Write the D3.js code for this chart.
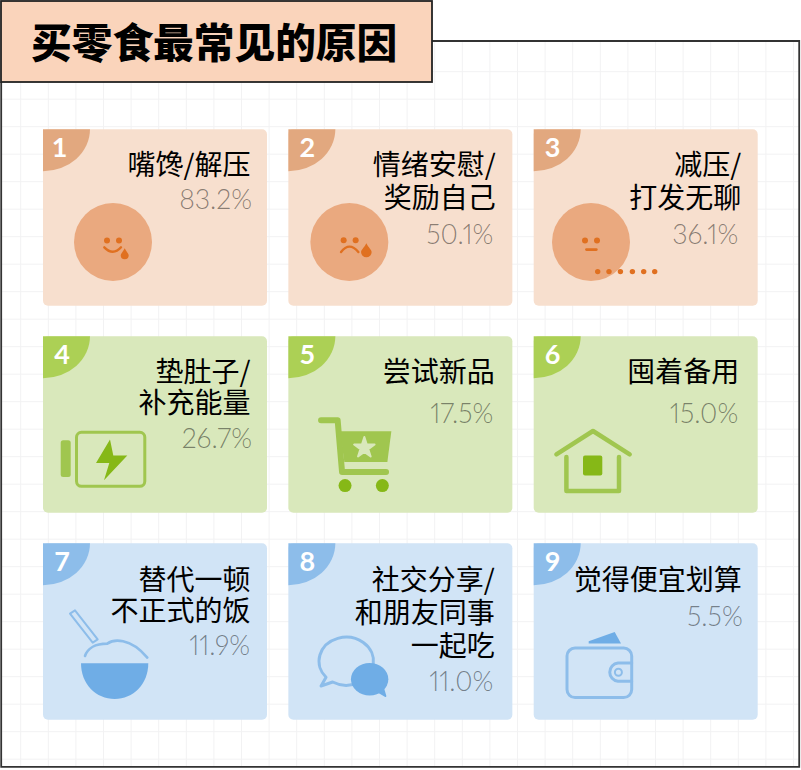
<!DOCTYPE html>
<html>
<head>
<meta charset="utf-8">
<script src="https://d3js.org/d3.v7.min.js"></script>
<style>
  html, body { margin: 0; padding: 0; background: #fff; }
  svg { display: block; }
  text { font-family: "Noto Sans CJK SC", sans-serif; }
  .num { font-family: Lato, sans-serif; font-weight: 700; font-size: 27px; fill: #fff; text-anchor: middle; }
  .label { font-size: 28px; fill: #000; text-anchor: end; }
  .value { font-family: Lato, sans-serif; font-weight: 300; font-size: 26.7px; fill: #000; fill-opacity: .45; text-anchor: end; font-feature-settings: "pnum"; font-variant-numeric: proportional-nums; }
</style>
</head>
<body>
<svg width="801" height="770"></svg>
<script>
var titleText = "买零食最常见的原因";
var ranks = [1, 2, 3, 4, 5, 6, 7, 8, 9];
var labels = [
  ["嘴馋/解压"],
  ["情绪安慰/", "奖励自己"],
  ["减压/", "打发无聊"],
  ["垫肚子/", "补充能量"],
  ["尝试新品"],
  ["囤着备用"],
  ["替代一顿", "不正式的饭"],
  ["社交分享/", "和朋友同事", "一起吃"],
  ["觉得便宜划算"]
];
var shares = [83.2, 50.1, 36.1, 26.7, 17.5, 15.0, 11.9, 11.0, 5.5];

// layout tweaks, card by card
var numX = [16.5, 19, 19, 19, 19, 19, 19, 19, 19];
var labelRight = [207.5, 207.5, 207.5, 207.5, 206.5, 205.5, 207.5, 206.5, 208];
var labelFirst = [45.5, 45.5, 45.5, 46, 46, 46, 46.7, 46.7, 46.7];
var lineGap = [33, 33, 33, 31, 33, 33, 31, 33, 33];
var valueRight = [209, 205, 204.5, 209, 205, 204.5, 207, 205, 209];
var valueDy = [34.5, 36, 36, 35, 41, 41, 34.5, 35.5, 36.5];

var rowColors = [
  { card: "#f7dfce", corner: "#e2a87f", light: "#eaa97f", dark: "#e07020" },
  { card: "#d9e8bb", corner: "#acd055", light: "#a0c64f", dark: "#86b817" },
  { card: "#d1e4f6", corner: "#8dbdea", light: "#8dbdea", dark: "#6fade6" }
];

var svg = d3.select("svg");
var x = d3.scaleLinear().domain([0, 2]).range([43, 533.7]);
var y = d3.scaleLinear().domain([0, 2]).range([129.3, 543.3]);
var cardW = 224, cardH = 176.5;

function dropPath(cx, cy, r, tip) {
  return "M" + cx + "," + tip +
    "C" + (cx + r * .4) + "," + (tip + (cy - tip) * .5) + " " + (cx + r) + "," + (cy - r * .4) + " " + (cx + r) + "," + cy +
    "A" + r + "," + r + " 0 0 1 " + (cx - r) + "," + cy +
    "C" + (cx - r) + "," + (cy - r * .4) + " " + (cx - r * .4) + "," + (tip + (cy - tip) * .5) + " " + cx + "," + tip + "Z";
}

function dot(g, cx, cy, r, fill) {
  return g.append("circle").attr("cx", cx).attr("cy", cy).attr("r", r).attr("fill", fill);
}

function line(g, d, color, w) {
  return g.append("path").attr("d", d).attr("fill", "none").attr("stroke", color)
    .attr("stroke-width", w).attr("stroke-linecap", "round").attr("stroke-linejoin", "round");
}

function shape(g, d, color) {
  return g.append("path").attr("d", d).attr("fill", color);
}

// one little drawing per card, coordinates relative to the card corner
var icons = [
  function(g, c) {  // smile with a drool drop
    dot(g, 70, 112.7, 39, c.light);
    dot(g, 64, 111.3, 3, c.dark);
    dot(g, 76, 111.3, 3, c.dark);
    line(g, "M61.3,118Q70,127 78,118", c.dark, 2.4);
    shape(g, dropPath(81.7, 126, 4, 119), c.dark);
  },
  function(g, c) {  // sad with a tear
    dot(g, 61, 112.7, 39, c.light);
    dot(g, 55.3, 111, 3, c.dark);
    dot(g, 67.3, 111, 3, c.dark);
    line(g, "M52.7,122.7Q61,112 70,122.7", c.dark, 2.4);
    shape(g, dropPath(78, 122.7, 5.3, 114), c.dark);
  },
  function(g, c) {  // flat face, dots trailing off
    dot(g, 57.3, 112.7, 39, c.light);
    dot(g, 51.3, 111.3, 3, c.dark);
    dot(g, 63.3, 111.3, 3, c.dark);
    line(g, "M52.7,120.3H62.7", c.dark, 2.6);
    [64, 75.3, 86.7, 98.7, 110, 121].forEach(function(dx) {
      dot(g, dx, 142.3, 2.7, c.dark);
    });
  },
  function(g, c) {  // battery
    g.append("rect").attr("x", 17.7).attr("y", 104).attr("width", 10).attr("height", 36.7)
      .attr("rx", 2.5).attr("fill", c.light);
    g.append("rect").attr("x", 33.5).attr("y", 96).attr("width", 68.3).attr("height", 54)
      .attr("rx", 5).attr("fill", "none").attr("stroke", c.light).attr("stroke-width", 3);
    shape(g, "M67,103.3L53,126.7H66.3L61,144L84.3,119.3H70.3Z", c.dark);
  },
  function(g, c) {  // cart
    line(g, "M32.7,84H49.3L53.7,135.7H97.7", c.light, 6);
    shape(g, "M51.7,95H103L99,125.7H56Z", c.light);
    g.append("path").attr("d", d3.symbol().type(d3.symbolStar).size(130)())
      .attr("transform", "translate(76,111.5)")
      .attr("fill", c.card).attr("stroke", c.card).attr("stroke-width", 2).attr("stroke-linejoin", "round");
    dot(g, 56.7, 149.3, 6.5, c.dark);
    dot(g, 94, 149.3, 6.5, c.dark);
  },
  function(g, c) {  // house
    line(g, "M22.7,118L59.3,94.7L96,118", c.light, 4.5);
    line(g, "M32.7,120.7V154.7H85.3V120.7", c.light, 4.5);
    g.append("rect").attr("x", 49.3).attr("y", 119.3).attr("width", 19.3).attr("height", 20)
      .attr("rx", 2).attr("fill", c.dark);
  },
  function(g, c) {  // rice bowl
    line(g, "M27,70.3L32,67L54.7,96L49.7,99.3Z", c.light, 2);
    line(g, "M42,112.7C44.3,105.3 52,100.3 64.3,100.3C70.3,96 87,93.7 104.3,114.3", c.light, 2.6);
    shape(g, "M38,120H105.3C105.3,141 90,155.7 71.7,155.7C53,155.7 38,141 38,120Z", c.dark);
  },
  function(g, c) {  // chat bubbles
    line(g, "M44.3,138.7L32.7,142.7L37.7,134A27.2,24 0 1 1 44.3,138.7Z", c.light, 3);
    g.append("ellipse").attr("cx", 81.3).attr("cy", 136).attr("rx", 18.7).attr("ry", 16.3).attr("fill", c.dark);
    line(g, "M89.3,148L97,152.7L95,146", c.dark, 2).attr("fill", c.dark);
  },
  function(g, c) {  // wallet
    shape(g, "M55,98L81,88.7L87.3,100.3H55Z", c.dark);
    g.append("rect").attr("x", 33.3).attr("y", 104.7).attr("width", 64.7).attr("height", 49.6)
      .attr("rx", 8).attr("fill", "none").attr("stroke", c.light).attr("stroke-width", 3);
    line(g, "M98,119.7H84.3A9.2,9.2 0 0 0 84.3,138H98", c.light, 3);
    g.append("circle").attr("cx", 84.7).attr("cy", 129).attr("r", 3.5)
      .attr("fill", "none").attr("stroke", c.light).attr("stroke-width", 2);
  }
];

// background grid, only inside the frame
var grid = svg.append("g").attr("stroke", "#f2f2f3").attr("stroke-width", 1);
d3.range(20.7, 799, 27.6).forEach(function(gx) {
  grid.append("line").attr("x1", gx).attr("x2", gx).attr("y1", 42).attr("y2", 766);
});
d3.range(71.7, 766, 27.5).forEach(function(gy) {
  grid.append("line").attr("x1", 2).attr("x2", 799).attr("y1", gy).attr("y2", gy);
});

// frame
svg.append("path")
  .attr("d", "M432,41H799.2V766.8H1.2V82")
  .attr("fill", "none").attr("stroke", "#333").attr("stroke-width", 1.8);

// title
svg.append("rect")
  .attr("x", 1).attr("y", 1).attr("width", 431).attr("height", 81)
  .attr("fill", "#fad4bb").attr("stroke", "#222").attr("stroke-width", 1.8);
svg.append("text")
  .attr("x", 31).attr("y", 58)
  .attr("font-size", 40.7).attr("font-weight", 900).attr("fill", "#000")
  .text(titleText);

var cards = svg.selectAll(".card")
  .data(ranks)
  .enter().append("g")
  .attr("class", "card")
  .attr("transform", function(d, i) {
    return "translate(" + x(i % 3) + "," + y(Math.floor(i / 3)) + ")";
  });

cards.append("rect")
  .attr("width", cardW).attr("height", cardH).attr("rx", 5)
  .attr("fill", function(d, i) { return rowColors[Math.floor(i / 3)].card; });

cards.append("path")
  .attr("d", "M0,0H47A47,42 0 0 1 0,42Z")
  .attr("fill", function(d, i) { return rowColors[Math.floor(i / 3)].corner; });

cards.append("text")
  .attr("class", "num")
  .attr("x", function(d, i) { return numX[i]; }).attr("y", 28)
  .text(function(d) { return d; });

cards.each(function(d, i) {
  var g = d3.select(this), lines = labels[i];
  icons[i](g, rowColors[Math.floor(i / 3)]);
  lines.forEach(function(txt, k) {
    g.append("text").attr("class", "label")
      .attr("x", labelRight[i]).attr("y", labelFirst[i] + k * lineGap[i])
      .text(txt);
  });
  g.append("text").attr("class", "value")
    .attr("x", valueRight[i]).attr("y", labelFirst[i] + (lines.length - 1) * lineGap[i] + valueDy[i])
    .text(d3.format(".1f")(shares[i]) + "%");
});
</script>
</body>
</html>
